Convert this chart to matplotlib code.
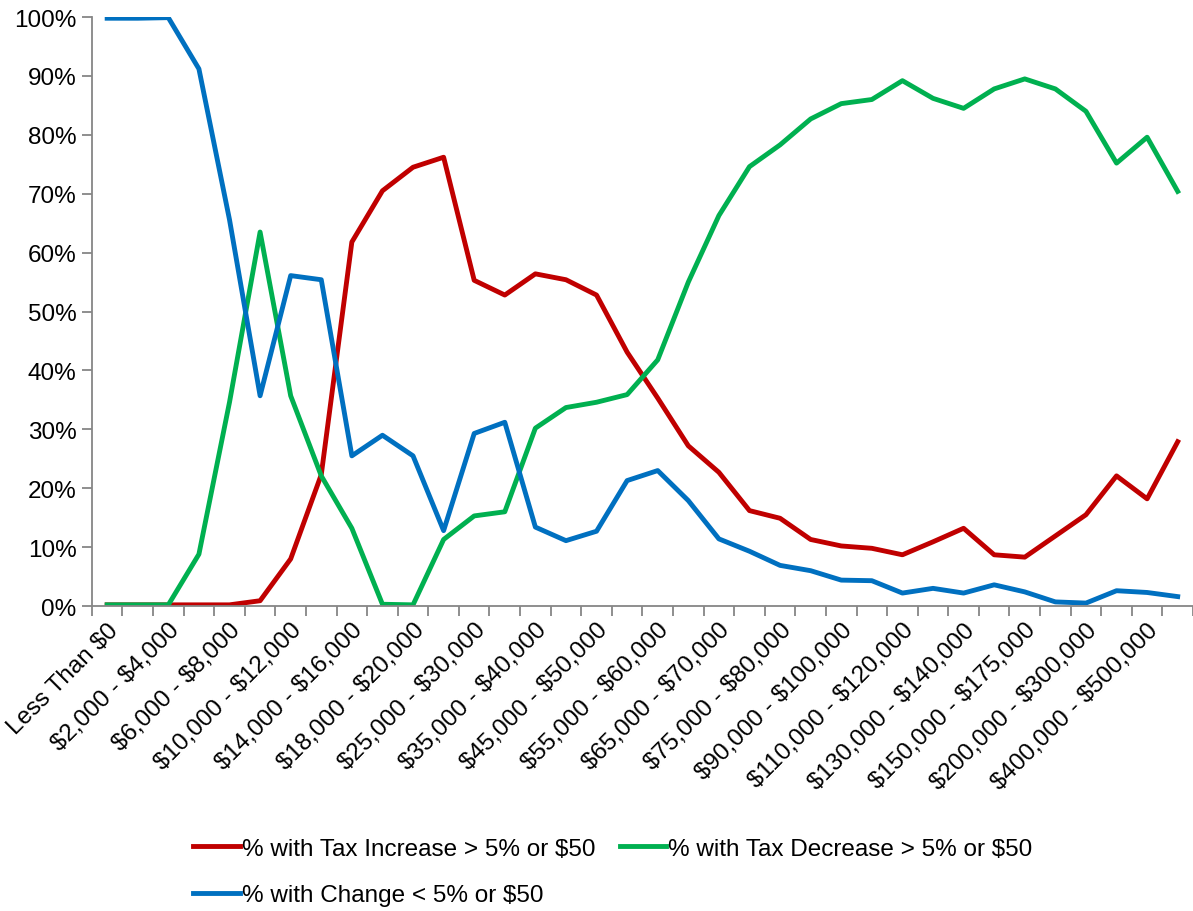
import numpy as np
import matplotlib.pyplot as plt
from matplotlib.ticker import PercentFormatter, FixedLocator

plt.rcParams['font.family'] = ['Liberation Sans', 'DejaVu Sans']

# Income brackets (AGI)
categories = [
    'Less Than $0', '$0 - $2,000', '$2,000 - $4,000', '$4,000 - $6,000',
    '$6,000 - $8,000', '$8,000 - $10,000', '$10,000 - $12,000', '$12,000 - $14,000',
    '$14,000 - $16,000', '$16,000 - $18,000', '$18,000 - $20,000', '$20,000 - $25,000',
    '$25,000 - $30,000', '$30,000 - $35,000', '$35,000 - $40,000', '$40,000 - $45,000',
    '$45,000 - $50,000', '$50,000 - $55,000', '$55,000 - $60,000', '$60,000 - $65,000',
    '$65,000 - $70,000', '$70,000 - $75,000', '$75,000 - $80,000', '$80,000 - $90,000',
    '$90,000 - $100,000', '$100,000 - $110,000', '$110,000 - $120,000', '$120,000 - $130,000',
    '$130,000 - $140,000', '$140,000 - $150,000', '$150,000 - $175,000', '$175,000 - $200,000',
    '$200,000 - $300,000', '$300,000 - $400,000', '$400,000 - $500,000', '$500,000 +',
]

# shares of returns, in percent
tax_increase = [0.2, 0.2, 0.2, 0.2, 0.2, 0.9, 8.0, 22.3, 61.8, 70.5,
                74.5, 76.2, 55.3, 52.8, 56.4, 55.4, 52.8, 43.1, 35.3, 27.2,
                22.7, 16.2, 14.9, 11.3, 10.2, 9.8, 8.7, 10.9, 13.2, 8.7,
                8.3, 11.9, 15.5, 22.1, 18.2, 27.9]
tax_decrease = [0.2, 0.2, 0.2, 8.8, 34.6, 63.5, 35.7, 22.1, 13.2, 0.3,
                0.2, 11.3, 15.3, 16.0, 30.2, 33.7, 34.6, 35.9, 41.8, 55.0,
                66.3, 74.6, 78.3, 82.7, 85.3, 86.0, 89.2, 86.2, 84.5, 87.8,
                89.5, 87.8, 84.0, 75.2, 79.6, 70.4]
small_change = [99.8, 99.8, 99.9, 91.2, 65.6, 35.7, 56.1, 55.4, 25.5, 29.0,
                25.5, 12.8, 29.3, 31.2, 13.4, 11.1, 12.7, 21.3, 23.0, 17.9,
                11.4, 9.3, 6.9, 6.0, 4.4, 4.3, 2.2, 3.0, 2.2, 3.6,
                2.4, 0.7, 0.5, 2.6, 2.3, 1.6]

series_names = ['% with Tax Increase > 5% or $50',
                '% with Tax Decrease > 5% or $50',
                '% with Change < 5% or $50']


def esc(s):
    # keep dollar signs literal instead of mathtext
    return s.replace('$', r'\$')


x = np.arange(len(categories))
fs = 17.5

fig = plt.figure(figsize=(11.93, 9.12), dpi=100)
ax = fig.add_axes([0.077, 0.3344, 0.923, 0.6458])

l_inc, = ax.plot(x, tax_increase, color='#C00000', lw=3.5, solid_joinstyle='round')
l_dec, = ax.plot(x, tax_decrease, color='#00B050', lw=3.5, solid_joinstyle='round')
l_chg, = ax.plot(x, small_change, color='#0070C0', lw=3.5, solid_joinstyle='round')

ax.set_xlim(-0.5, len(categories) - 0.5)
ax.set_ylim(0, 100)
ax.set_yticks(np.arange(0, 101, 10))
ax.yaxis.set_major_formatter(PercentFormatter(decimals=0))

# tick marks sit between categories, labels on every other category
ax.xaxis.set_major_locator(FixedLocator(np.arange(-0.5, len(categories), 1.0)))
ax.xaxis.set_major_formatter(plt.NullFormatter())
ax.xaxis.set_minor_locator(FixedLocator(x[::2]))
ax.set_xticklabels([esc(c) for c in categories[::2]], minor=True, rotation=45,
                   ha='right', rotation_mode='anchor', fontsize=fs)
ax.tick_params(axis='x', which='minor', length=0, pad=9)
ax.tick_params(axis='x', which='major', length=7, width=1.3, color='#868686', direction='out')
ax.tick_params(axis='y', length=7, width=1.3, color='#868686', labelsize=fs, pad=4)

for side in ('top', 'right'):
    ax.spines[side].set_visible(False)
for side in ('left', 'bottom'):
    ax.spines[side].set_color('#868686')
    ax.spines[side].set_linewidth(1.3)

fig.legend([l_inc, l_chg, l_dec], [esc(series_names[0]), esc(series_names[2]), esc(series_names[1])],
           ncol=2, loc='upper left', bbox_to_anchor=(0.154, 0.091), frameon=False,
           fontsize=fs, handlelength=1.9, handletextpad=0.1, columnspacing=1.0,
           labelspacing=1.0, borderaxespad=0)

fig.savefig('out.png', dpi=100)
